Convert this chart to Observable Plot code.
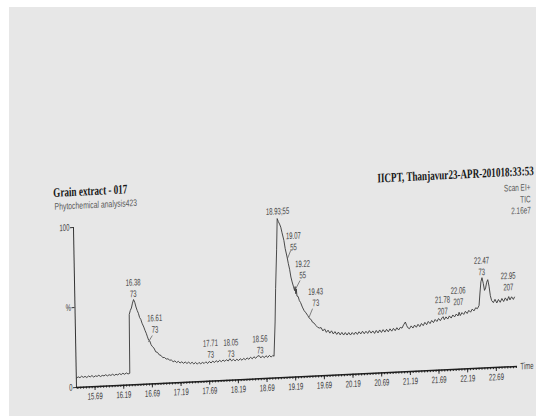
<!DOCTYPE html>
<html><head><meta charset="utf-8">
<script src="https://cdn.jsdelivr.net/npm/d3@7"></script>
<script src="https://cdn.jsdelivr.net/npm/@observablehq/plot@0.6"></script>
<style>
html,body{margin:0;padding:0;background:#fff;width:536px;height:416px;overflow:hidden;}
#paper{position:absolute;left:9px;top:7px;right:0;bottom:0;background:#e7e7e7;}
#sheet{position:absolute;left:0;top:0;width:536px;height:416px;transform-origin:76px 387px;transform:matrix(1,-0.0476,0.019,1,0,0);}
.serif{font-family:"Liberation Serif","Times New Roman",serif;font-weight:bold;font-size:13px;line-height:13px;color:#161616;position:absolute;white-space:nowrap;}
.sans{font-family:"Liberation Sans",Arial,sans-serif;font-size:9.5px;color:#5a5a5a;position:absolute;white-space:nowrap;}
#title{left:56.7px;top:184.7px;transform:scaleX(0.70);transform-origin:left center;}
#subtitle{left:58.4px;top:201px;line-height:9.5px;transform:scaleX(0.72);transform-origin:left center;}
#instrument{right:-1px;top:185.8px;transform:scaleX(0.70);transform-origin:right center;}
#scaninfo{right:2.4px;top:203.2px;line-height:11.6px;text-align:right;transform:scaleX(0.68);transform-origin:right center;}
#plot{position:absolute;left:0;top:0;}
</style></head>
<body>
<div id="paper"></div>
<div id="sheet">
  <div id="title" class="serif"></div>
  <div id="subtitle" class="sans"></div>
  <div id="instrument" class="serif"></div>
  <div id="scaninfo" class="sans"></div>
  <div id="plot"></div>
</div>
<script>
// ---- texts ----
const titleText = "Grain extract - 017";
const subtitleText = "Phytochemical analysis423";
const instrumentText = "IICPT, Thanjavur23-APR-201018:33:53";
const scanInfo = ["Scan EI+", "TIC", "2.16e7"];

// ---- axes ----
const timeDomain = [15.367, 23.06];
const majorTicks = [15.69, 16.19, 16.69, 17.19, 17.69, 18.19, 18.69, 19.19, 19.69, 20.19, 20.69, 21.19, 21.69, 22.19, 22.69];
const minorTicks = d3.range(0, 154).map(i => +(15.39 + i * 0.05).toFixed(2));
const yTicks = [0, 50, 100];
const yTickLabels = ["0", "%", "100"];

// ---- TIC trace: [retention time (min), relative abundance %] ----
const ticTrace = [
[15.37,5.8],[15.40,6.6],[15.43,6.0],[15.46,6.9],[15.49,6.1],[15.52,6.7],[15.55,5.9],[15.58,6.8],[15.61,6.2],[15.64,7.0],
[15.67,6.0],[15.70,6.7],[15.73,6.3],[15.76,7.0],[15.79,6.1],[15.82,6.8],[15.85,6.4],[15.88,7.1],[15.91,6.3],[15.94,7.0],
[15.97,6.5],[16.00,7.2],[16.03,6.4],[16.06,7.1],[16.09,6.6],[16.12,7.4],[16.15,6.7],[16.18,7.5],[16.21,6.8],[16.24,7.6],
[16.27,6.9],[16.30,7.3],
[16.31,44],[16.33,46.5],[16.35,48],[16.37,51],[16.39,53.2],[16.41,51.5],[16.43,48.5],[16.45,46.3],[16.47,44.5],[16.49,41.8],
[16.51,40.6],[16.53,38.2],[16.56,35.7],[16.58,33.6],[16.60,31.8],[16.62,29.5],[16.64,27.4],[16.66,26.8],[16.68,24.6],[16.70,23.4],
[16.73,22.3],[16.76,19.9],[16.79,19.5],[16.82,17.9],[16.85,17.5],[16.88,16.1],[16.91,16.1],[16.94,15.1],[16.97,15.2],[17.00,14.3],
[17.03,14.3],[17.06,13.2],[17.09,13.7],[17.12,12.6],[17.15,13.3],[17.18,12.2],[17.21,12.9],[17.24,11.9],[17.27,12.7],[17.30,11.7],
[17.33,12.5],[17.36,11.5],[17.39,12.3],[17.42,11.2],[17.45,12.1],[17.48,11.0],[17.51,12.0],[17.54,11.1],[17.57,11.9],[17.60,11.2],
[17.63,12.2],[17.66,11.1],[17.69,12.3],[17.72,11.3],[17.75,12.4],[17.78,11.5],[17.81,12.6],[17.84,11.6],[17.87,12.7],[17.90,11.8],
[17.93,12.8],[17.96,11.9],[17.99,12.9],[18.02,12.0],[18.05,13.4],[18.08,12.0],[18.11,12.9],[18.14,11.9],[18.17,12.9],[18.20,12.0],
[18.23,13.1],[18.26,12.1],[18.29,13.2],[18.32,12.3],[18.35,13.4],[18.38,12.5],[18.41,13.7],[18.44,12.7],[18.47,13.9],[18.50,12.9],
[18.53,14.1],[18.56,14.5],[18.59,13.0],[18.62,14.1],[18.65,13.0],[18.68,14.2],[18.71,13.1],[18.74,14.3],[18.77,13.2],[18.80,14.2],
[18.82,13.6],
[18.85,35],[18.87,56],[18.90,80],[18.92,99.5],[18.94,97.5],[18.96,96],[18.98,94],[19.00,90.5],[19.03,85.7],[19.05,80.5],
[19.08,75.2],[19.10,71],[19.12,67.5],[19.14,62.6],[19.16,59.5],[19.18,56.8],[19.20,54],[19.21,56.5],[19.22,52],[19.23,55],
[19.24,50.5],[19.26,50.2],[19.28,47.6],[19.30,46.4],[19.33,43.5],[19.36,41.2],[19.39,39.8],[19.42,38.1],[19.45,36.2],[19.48,35.4],
[19.50,33.8],[19.53,33.1],[19.56,31.6],[19.59,30.4],[19.62,29.9],[19.65,30.1],[19.68,28.0],[19.71,29.2],[19.74,27.0],[19.77,28.3],
[19.80,26.4],[19.83,27.8],[19.86,25.8],[19.89,27.2],[19.92,25.4],[19.95,26.8],[19.98,25.0],[20.01,26.5],[20.04,24.8],[20.07,26.3],
[20.10,24.7],[20.13,26.2],[20.16,24.6],[20.19,26.1],[20.22,24.8],[20.25,26.3],[20.28,24.8],[20.31,26.4],[20.34,25.0],[20.37,26.6],
[20.40,25.0],[20.43,26.5],[20.46,25.1],[20.49,26.8],[20.52,25.2],[20.55,26.5],[20.58,24.9],[20.61,26.7],[20.64,25.1],[20.67,26.9],
[20.70,25.3],[20.73,27.0],[20.76,25.4],[20.79,27.1],[20.82,25.5],[20.85,27.3],[20.88,25.8],[20.91,27.5],[20.94,26.0],[20.97,27.8],
[21.00,26.3],[21.03,27.9],[21.06,27.4],[21.09,29.5],[21.12,31.1],[21.14,29.0],[21.16,27.5],[21.19,26.8],[21.22,28.5],[21.25,27.1],
[21.28,28.9],[21.31,27.5],[21.34,29.3],[21.37,27.8],[21.40,29.7],[21.43,28.3],[21.46,30.3],[21.49,28.8],[21.52,30.8],[21.55,29.4],
[21.58,31.3],[21.61,29.9],[21.64,31.8],[21.67,30.5],[21.70,32.3],[21.73,30.9],[21.76,32.6],[21.78,33.3],[21.80,31.4],[21.83,33.1],
[21.86,31.7],[21.89,33.6],[21.92,32.2],[21.95,34.1],[21.98,32.8],[22.01,34.6],[22.04,33.3],[22.06,35.6],[22.08,33.5],[22.11,35.3],
[22.14,34.1],[22.17,36.0],[22.20,34.6],[22.23,36.5],[22.26,35.3],[22.29,37.2],[22.32,36.0],[22.35,37.9],[22.38,37.3],[22.41,39.2],
[22.43,47],[22.45,54],[22.47,56.5],[22.49,53],[22.51,48.5],[22.53,50],[22.55,53.5],[22.57,55.1],[22.59,51],[22.61,45],
[22.63,42],[22.66,40.6],[22.69,42.6],[22.72,40.3],[22.75,42.4],[22.78,40.6],[22.81,42.9],[22.84,41.0],[22.87,43.2],[22.90,41.4],
[22.93,43.9],[22.95,41.8],[22.98,43.7],[23.01,42.0],[23.03,43.4]
];

// ---- peak annotations ----
const peakRT   = ["16.38","16.61","17.71","18.05","18.56","18.93","19.07","19.22","19.43","21.78","22.06","22.47","22.95"];
const peakIon  = ["73","73","73","73","73","55","55","55","73","207","207","73","207"];
const labelRT  = [16.388,16.753,17.716,18.072,18.58,18.929,19.196,19.348,19.566,21.775,22.05,22.468,22.927];
const labelLevel = [54.8,31.9,14.6,14.4,15.8,102.1,79.2,61.4,43.7,34.8,40.1,58.1,47.8];
const inlineLabels = ["18.93"];

// leader lines from trace to offset labels
const leaderRTFrom = [16.634, 19.086, 19.222, 19.444];
const leaderLvFrom = [26.2, 74.2, 55.2, 37.0];
const leaderRTTo   = [16.705, 19.147, 19.299, 19.507];
const leaderLvTo   = [30.2, 79.3, 60.2, 42.2];

document.getElementById("title").textContent = titleText;
document.getElementById("subtitle").textContent = subtitleText;
document.getElementById("instrument").textContent = instrumentText;
document.getElementById("scaninfo").innerHTML = scanInfo.join("<br>");

const labels = peakRT.map((rt, i) => ({
  x: labelRT[i], y: labelLevel[i],
  text: inlineLabels.includes(rt) ? `${rt};${peakIon[i]}` : `${rt}\n${peakIon[i]}`
}));
const leaders = leaderRTFrom.map((t, i) => ({x1: t, y1: leaderLvFrom[i], x2: leaderRTTo[i], y2: leaderLvTo[i]}));

const chart = Plot.plot({
  width: 536, height: 416,
  marginLeft: 76, marginRight: 19, marginTop: 227, marginBottom: 29,
  x: {domain: timeDomain, axis: null},
  y: {domain: [0, 100], axis: null},
  style: {background: "transparent", fontFamily: "'Liberation Sans', Arial, sans-serif", fontSize: "9.5px", color: "#3a3a3a", overflow: "visible"},
  marks: [
    Plot.axisX({ticks: minorTicks, tickSize: 2, tickFormat: () => "", stroke: "#2a2a2a"}),
    Plot.axisX({ticks: majorTicks, tickSize: 4, tickPadding: 2, tickFormat: d3.format(".2f"), stroke: "#2a2a2a", fill: "#3a3a3a"}),
    Plot.axisY({ticks: yTicks, tickSize: 3, tickPadding: 1, tickFormat: d => yTickLabels[yTicks.indexOf(d)], stroke: "#333", fill: "#3a3a3a"}),
    Plot.ruleX([timeDomain[0]], {y1: 0, y2: 100, stroke: "#333", strokeWidth: 1}),
    Plot.ruleY([0], {stroke: "#1e1e1e", strokeWidth: 1.5}),
    Plot.line(ticTrace, {x: d => d[0], y: d => d[1], stroke: "#3a3a3a", strokeWidth: 0.9}),
    Plot.link(leaders, {x1: "x1", y1: "y1", x2: "x2", y2: "y2", stroke: "#555", strokeWidth: 0.7}),
    Plot.text(labels, {x: "x", y: "y", text: "text", lineAnchor: "bottom", lineHeight: 1.2, fill: "#444"}),
    Plot.text(["Time"], {frameAnchor: "bottom-right", dx: 3, textAnchor: "start", lineAnchor: "middle", fill: "#444"})
  ]
});

// condensed glyphs like the printout
chart.querySelectorAll("text").forEach(t => {
  const tr = t.getAttribute("transform");
  if (tr) t.setAttribute("transform", tr + " scale(0.63,1)");
  else {
    const x = +(t.getAttribute("x") || 0), y = +(t.getAttribute("y") || 0);
    if (!isNaN(x) && !isNaN(y)) t.setAttribute("transform", `translate(${x},${y}) scale(0.63,1) translate(${-x},${-y})`);
  }
});
document.getElementById("plot").appendChild(chart);
</script>
</body></html>
